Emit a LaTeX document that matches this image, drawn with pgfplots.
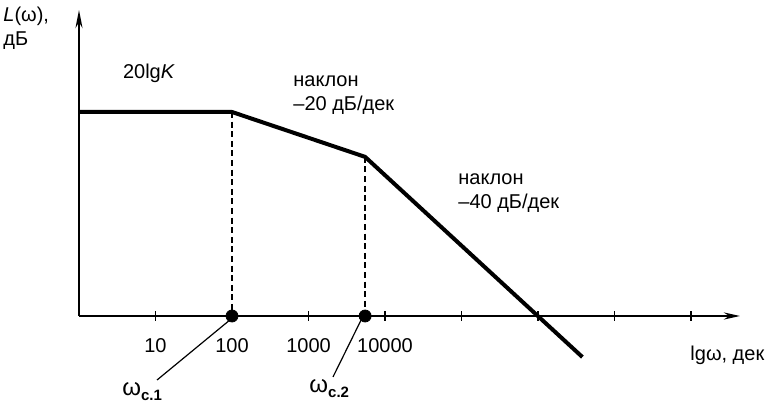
\documentclass[border=0pt]{standalone}
\usepackage{pgfplots}
\pgfplotsset{compat=1.18}
\usepackage{fontspec}
\setmainfont{Liberation Sans}
\usetikzlibrary{arrows.meta}
\newcommand{\sub}[1]{\raisebox{-0.45ex}{\fontsize{7.5}{8}\selectfont\bfseries #1}}
\newcommand{\om}{{\fontsize{12}{13}\selectfont ω}}
\begin{document}
\begin{tikzpicture}
\begin{axis}[
  scale only axis, width=330.5pt, height=153pt,
  xmin=0, xmax=8.64, ymin=0, ymax=120,
  axis lines=left,
  axis line style={line width=1.2pt},
  x axis line style={-{Stealth[length=8pt,width=3.5pt]}},
  y axis line style={-{Stealth[length=9pt,width=3.5pt]}},
  xtick={1,2,3,4,5,6,7,8},
  xticklabels={10,100,1000,10000,,,,},
  ytick=\empty,
  tick align=center, major tick length=5pt,
  tick style={line width=0.6pt, black},
  xticklabel style={yshift=-5pt, font=\fontsize{10}{11}\selectfont},
  /pgf/number format/assume math mode=true,
  clip=false,
  every node/.style={font=\fontsize{10}{10.5}\selectfont},
]
% asymptotic LAFC
\addplot[black, line width=2pt, line join=round] coordinates {(0,80) (2,80) (3.74,62.4) (6.58,-16.1)};
% dashed verticals
\addplot[black, dash pattern=on 3pt off 1.8pt, line width=0.7pt] coordinates {(2,80) (2,0)};
\addplot[black, dash pattern=on 3pt off 1.8pt, line width=0.7pt] coordinates {(3.74,62.4) (3.74,0)};
% leader lines
\addplot[black, line width=0.6pt] coordinates {(1.987,-1.2) (1.02,-25.1)};
\addplot[black, line width=0.6pt] coordinates {(3.70,-0.8) (3.32,-23.9)};
% corner frequency points
\addplot[only marks, mark=*, mark size=3pt, black] coordinates {(2,0) (3.74,0)};
% texts
\node[anchor=west, align=left, inner sep=0pt] at (axis cs:-0.993,112.9) {\textit{L}(ω),\\дБ};
\node[inner sep=0pt] at (axis cs:0.915,95.3) {20lg\textit{K}};
\node[anchor=west, align=left, inner sep=0pt] at (axis cs:2.797,86.7) {наклон\\–20 дБ/дек};
\node[anchor=west, align=left, inner sep=0pt] at (axis cs:4.954,48.2) {наклон\\–40 дБ/дек};
\node[anchor=west, inner sep=0pt] at (axis cs:7.987,-15.3) {lgω, дек};
\node[anchor=west, inner sep=0pt] at (axis cs:0.562,-29.8) {\om\sub{с.1}};
\node[anchor=west, inner sep=0pt] at (axis cs:3.007,-28.6) {\om\sub{с.2}};
\end{axis}
\pgfresetboundingbox
\useasboundingbox (-39.5pt,-45pt) rectangle (344.5pt,158pt);
\end{tikzpicture}
\end{document}
